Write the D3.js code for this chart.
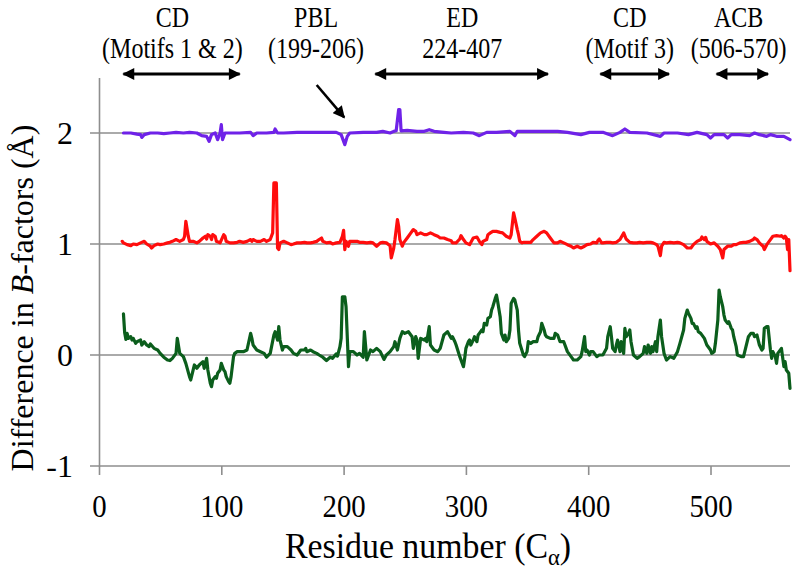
<!DOCTYPE html>
<html><head><meta charset="utf-8">
<script src="https://cdn.jsdelivr.net/npm/d3@7"></script>
<style>
html,body{margin:0;padding:0;background:#fff;}
svg{display:block;}
</style></head><body>
<svg id="chart" width="792" height="570"></svg>
<script>
// ---------- data (residue number, plotted value) ----------
const greenSeries = [[20,.37],[21,.20],[22,.14],[23,.195],[24,.15],[26,.165],[27,.135],[28,.15],[30,.105],[31,.12],[34,.135],[35,.09],[37,.12],[39,.09],[41,.075],[42,.10],[45,.06],[48,.045],[50,.015],[53,-.02],[56,-.045],[58,-.05],[60,-.03],[63,.015],[64,.15],[66,.015],[69,-.015],[71,-.075],[74,-.195],[75,-.225],[77,-.135],[78,-.09],[80,-.12],[82,-.09],[85,-.06],[86,-.12],[88,-.03],[89,-.135],[91,-.255],[92,-.285],[93,-.225],[95,-.195],[96,-.21],[97,-.165],[99,-.135],[100,-.075],[102,-.135],[103,-.15],[104,-.195],[106,-.24],[107,-.255],[108,-.195],[110,-.015],[111,.015],[113,.03],[115,.03],[118,.03],[121,.045],[124,.195],[125,.15],[126,.09],[129,.045],[132,.03],[135,.015],[137,-.02],[140,.015],[143,.18],[144,.21],[146,.135],[147,.255],[148,.135],[150,.045],[151,.075],[154,.075],[157,.045],[159,.015],[162,0],[165,.045],[168,.045],[169,.06],[170,.03],[173,.045],[175,.03],[178,.015],[180,0],[183,-.02],[186,-.05],[189,-.02],[191,-.03],[194,.01],[195,-.01],[197,.075],[198,.15],[199,.525],[201,.525],[202,.435],[204,-.105],[205,.03],[208,.03],[211,0],[213,.015],[216,-.02],[217,.21],[219,-.045],[222,.045],[224,.03],[227,.06],[230,.03],[233,-.04],[235,0],[238,.03],[241,.075],[242,.12],[244,.045],[246,.15],[248,.21],[250,.195],[253,.21],[256,.165],[257,.06],[259,.165],[260,.135],[261,-.03],[263,.15],[266,.135],[267,.15],[268,.12],[270,.255],[271,.09],[274,.045],[277,.03],[279,.06],[282,.18],[285,.21],[288,.15],[289,.165],[291,.12],[292,.09],[295,-.015],[298,-.105],[299,-.03],[300,.06],[302,.12],[303,.135],[304,.09],[306,.135],[307,.165],[309,.12],[310,.18],[311,.195],[313,.225],[314,.21],[315,.285],[317,.27],[318,.33],[320,.345],[321,.405],[322,.435],[324,.51],[325,.54],[326,.48],[328,.345],[329,.195],[331,.135],[332,.18],[333,.12],[335,.15],[336,.225],[337,.465],[339,.51],[340,.495],[342,.405],[343,.225],[344,.105],[347,0],[348,-.015],[350,.03],[351,.12],[353,.105],[355,.12],[358,.12],[359,.165],[361,.21],[362,.285],[364,.225],[365,.18],[366,.165],[369,.15],[372,.15],[373,.195],[375,.18],[377,.12],[380,.12],[383,.03],[386,-.015],[388,-.045],[391,-.045],[394,-.015],[395,.03],[397,.165],[398,.03],[399,.045],[401,0],[402,.03],[404,.03],[407,-.015],[409,0],[412,0],[415,.06],[416,.165],[418,.255],[419,.165],[420,.06],[422,.03],[423,.09],[424,.135],[426,.03],[427,.12],[429,.015],[430,.24],[431,.165],[433,.195],[434,.225],[435,.12],[437,0],[440,-.03],[442,-.015],[445,.015],[446,.075],[448,.015],[449,.09],[451,.015],[452,.075],[453,.03],[455,.12],[456,.03],[457,.165],[459,.315],[460,.165],[462,.015],[464,-.045],[467,-.015],[470,-.03],[473,.03],[475,.105],[478,.225],[479,.33],[481,.405],[482,.375],[484,.33],[485,.285],[486,.285],[488,.24],[489,.255],[490,.21],[492,.195],[495,.15],[496,.12],[497,.09],[500,.045],[501,.015],[503,.03],[504,.105],[506,.315],[507,.585],[508,.525],[510,.435],[511,.36],[512,.315],[514,.285],[515,.30],[517,.24],[518,.225],[519,.165],[521,.075],[522,0],[525,-.015],[527,-.015],[529,.075],[531,.165],[533,.195],[535,.195],[536,.165],[538,.18],[539,.135],[540,.09],[542,.045],[543,.06],[544,.24],[546,.255],[547,.255],[549,.045],[550,-.03],[551,.03],[553,-.015],[554,-.075],[555,.015],[558,.06],[560,-.105],[561,-.06],[562,-.135],[564,-.165],[565,-.30]];

const redSeries = [[19,1.024],[20,1.01],[23,.994],[26,.985],[28,1.0],[31,.994],[34,1.01],[37,1.024],[39,1.0],[42,.98],[43,.964],[45,.985],[48,1.0],[50,.994],[53,1.0],[56,1.01],[58,1.015],[60,1.024],[63,1.04],[66,1.024],[69,1.04],[70,1.07],[71,1.204],[73,1.07],[74,1.024],[77,1.024],[80,1.01],[82,1.024],[85,1.054],[87,1.07],[88,1.045],[89,1.084],[91,1.07],[92,1.04],[93,1.084],[95,1.07],[96,1.024],[99,1.01],[102,1.084],[103,1.07],[104,1.024],[107,1.01],[110,1.01],[113,1.015],[115,1.024],[118,1.015],[121,1.024],[124,1.04],[125,1.024],[126,1.04],[129,1.024],[132,1.024],[135,1.04],[137,1.024],[140,1.04],[142,1.10],[143,1.55],[145,1.55],[146,.964],[147,.95],[148,1.01],[151,1.024],[154,1.01],[157,.994],[159,1.0],[162,1.01],[165,1.01],[168,1.015],[170,1.01],[173,1.01],[175,1.015],[178,1.024],[180,1.04],[182,1.054],[183,1.024],[186,1.01],[189,1.015],[191,1.0],[194,1.01],[197,1.015],[199,1.07],[200,1.123],[201,.95],[202,1.024],[204,.98],[205,1.024],[208,1.024],[211,1.024],[213,1.015],[216,1.015],[219,1.01],[222,1.015],[224,1.01],[227,.98],[230,1.01],[232,1.015],[235,1.01],[238,.985],[239,.874],[241,.964],[242,1.04],[244,1.22],[245,1.16],[246,1.04],[248,.98],[249,1.01],[252,1.054],[255,1.10],[257,1.13],[259,1.114],[260,1.084],[263,1.10],[266,1.084],[268,1.084],[271,1.10],[274,1.084],[277,1.07],[279,1.054],[282,1.054],[285,1.04],[288,1.03],[289,1.01],[292,1.01],[295,1.045],[296,1.075],[298,1.04],[300,1.01],[303,.994],[306,1.054],[309,1.063],[311,1.024],[313,.994],[314,1.024],[317,1.04],[318,1.084],[320,1.10],[322,1.114],[325,1.114],[328,1.105],[330,1.10],[333,1.07],[336,1.054],[337,1.084],[339,1.28],[340,1.234],[342,1.13],[343,1.084],[344,1.024],[346,1.01],[347,1.015],[350,1.015],[353,1.015],[355,1.04],[358,1.07],[361,1.10],[364,1.114],[366,1.10],[369,1.054],[372,1.01],[375,1.01],[377,1.024],[380,1.01],[383,.994],[386,.98],[388,.964],[391,.98],[394,.964],[397,.98],[399,.994],[402,1.0],[404,1.015],[407,1.01],[408,1.033],[409,1.045],[411,1.01],[412,1.01],[415,1.015],[418,1.015],[420,1.01],[423,1.015],[426,1.04],[429,1.10],[431,1.045],[434,1.015],[437,1.01],[440,1.01],[442,1.015],[445,1.01],[448,1.015],[451,1.015],[453,1.01],[456,.994],[457,.98],[459,.895],[460,.98],[462,1.015],[464,1.01],[467,1.015],[470,1.01],[473,1.015],[475,1.01],[478,.994],[481,.964],[484,.964],[486,.994],[489,1.024],[492,1.04],[493,1.063],[495,1.04],[496,1.06],[497,1.024],[500,1.0],[503,1.01],[506,.98],[508,.95],[510,.874],[511,.95],[514,.98],[517,.98],[519,.994],[521,.994],[524,1.01],[527,1.015],[529,1.015],[532,1.024],[535,1.04],[536,1.054],[538,1.04],[540,1.01],[543,.98],[544,.95],[546,.994],[549,1.04],[551,1.07],[554,1.075],[557,1.07],[558,1.075],[560,1.054],[561,1.07],[562,1.054],[563,.95],[564,1.04],[565,.76]];

const purpleSeries = [[20,2.0],[26,2.0],[31,1.99],[34,1.985],[35,1.96],[37,1.985],[42,2.0],[48,2.0],[53,1.994],[58,2.0],[63,2.006],[69,2.0],[74,2.006],[80,2.0],[84,1.976],[88,1.97],[90,1.925],[92,1.985],[95,2.0],[97,1.94],[99,2.0],[100,2.075],[101,1.94],[103,2.0],[107,2.0],[115,2.0],[124,2.006],[126,1.976],[129,2.0],[137,2.0],[143,2.006],[144,2.036],[146,2.0],[151,2.0],[162,2.006],[173,2.006],[183,2.006],[194,2.006],[198,1.985],[201,1.895],[203,1.97],[205,2.0],[216,2.006],[227,2.006],[232,2.015],[238,2.0],[241,2.015],[243,2.02],[245,2.21],[246,2.21],[247,2.02],[252,2.024],[260,2.015],[266,2.015],[270,2.03],[274,2.015],[282,2.006],[288,2.0],[298,2.006],[306,2.0],[311,1.976],[317,2.006],[325,2.006],[336,2.015],[340,1.976],[342,2.015],[353,2.015],[364,2.015],[375,2.015],[383,2.006],[394,1.985],[401,2.006],[412,2.006],[420,1.976],[426,2.006],[430,2.036],[434,2.006],[448,2.0],[459,1.97],[462,2.0],[473,2.0],[482,1.985],[489,2.006],[497,1.985],[500,1.955],[503,1.985],[511,1.985],[514,1.955],[517,1.985],[524,1.985],[532,1.976],[536,2.0],[540,1.985],[546,1.97],[549,1.985],[554,1.97],[560,1.97],[565,1.94]];

const xTicks = [0, 100, 200, 300, 400, 500];
const yTicks = [-1, 0, 1, 2];

// annotation content (positions in residue numbers)
const regionNames   = ["CD", "PBL", "ED", "CD", "ACB"];
const regionDetails = ["(Motifs 1 & 2)", "(199-206)", "224-407", "(Motif 3)", "(506-570)"];
const regionCenters = [60, 177.5, 297, 434, 523];
const regionArrows  = [[20, 115], [226, 367], [410, 466], [505, 547]];
const pblPointer    = {from: 178, to: 200.5, toValue: 2.14};

// ---------- pick an installed Times-like serif font ----------
function pickSerif() {
  const ctx = document.createElement("canvas").getContext("2d");
  const probe = "mmmmmmmmiiiiiiiiWWWWllll";
  ctx.font = "100px monospace"; const mono = ctx.measureText(probe).width;
  ctx.font = "100px sans-serif"; const sans = ctx.measureText(probe).width;
  const cands = ["Liberation Serif", "Tinos", "Times New Roman", "Times", "Nimbus Roman",
                 "Nimbus Roman No9 L", "FreeSerif", "Noto Serif", "DejaVu Serif"];
  for (const f of cands) {
    ctx.font = `100px "${f}", monospace`; const a = ctx.measureText(probe).width;
    ctx.font = `100px "${f}", sans-serif`; const b = ctx.measureText(probe).width;
    if (Math.abs(a - b) < 0.5 && Math.abs(a - mono) > 0.5) return `"${f}"`;
  }
  return "serif";
}
const serif = pickSerif();

// ---------- layout ----------
const svg = d3.select("#chart").style("font-family", serif);
const x = d3.scaleLinear().domain([0, 565]).range([99, 790]);
const y = d3.scaleLinear().domain([-1, 2.5]).range([466, 77.5]);
const gridColor = "#8e8e8e";

// gridlines (with left tick stubs)
svg.append("g").selectAll("line").data(yTicks).join("line")
  .attr("x1", x(0) - 9).attr("x2", x.range()[1])
  .attr("y1", d => y(d)).attr("y2", d => y(d))
  .attr("stroke", gridColor).attr("stroke-width", 1.6);

// y axis
const yAxis = svg.append("g").attr("transform", `translate(${x(0)},0)`)
  .call(d3.axisLeft(y).tickValues(yTicks).tickSize(0).tickPadding(0).tickFormat(d => String(d)));
yAxis.attr("font-family", serif);
yAxis.select(".domain").attr("stroke", gridColor).attr("stroke-width", 1.6);
yAxis.selectAll(".tick text")
  .attr("x", -26).attr("dy", "0.34em")
  .style("font-size", "32px").attr("fill", "#000");

// x axis
const xAxis = svg.append("g").attr("transform", `translate(0,${y(-1)})`)
  .call(d3.axisBottom(x).tickValues(xTicks).tickSize(9).tickPadding(0).tickFormat(d => String(d)));
xAxis.attr("font-family", serif);
xAxis.select(".domain").remove();
xAxis.selectAll(".tick line").attr("stroke", gridColor).attr("stroke-width", 1.6);
xAxis.selectAll(".tick text")
  .attr("y", 51).attr("dy", 0)
  .style("font-size", "31px").attr("fill", "#000")
  .attr("transform", "scale(0.93,1)");

// series lines
const line = d3.line().x(d => x(d[0])).y(d => y(d[1])).curve(d3.curveLinear);
const series = [
  {data: greenSeries, color: "#0b5e1c"},
  {data: redSeries, color: "#ff0d0d"},
  {data: purpleSeries, color: "#6f22e8"}
];
svg.append("g").selectAll("path").data(series).join("path")
  .attr("d", d => line(d.data))
  .attr("fill", "none").attr("stroke", d => d.color)
  .attr("stroke-width", 3.2).attr("stroke-linejoin", "round").attr("stroke-linecap", "round");

// axis titles
const xt = svg.append("text")
  .attr("transform", `translate(428,558) scale(0.94,1)`)
  .attr("text-anchor", "middle").style("font-size", "36px").attr("fill", "#000");
xt.append("tspan").text("Residue number (C");
xt.append("tspan").attr("dy", 7).style("font-size", "24px").text("α");
xt.append("tspan").attr("dy", -7).text(")");

const yt = svg.append("text")
  .attr("transform", "translate(33,298) rotate(-90)")
  .attr("text-anchor", "middle").style("font-size", "32px").attr("fill", "#000");
yt.append("tspan").text("Difference in ");
yt.append("tspan").style("font-style", "italic").text("B");
yt.append("tspan").text("-factors (Å)");

// annotations
const defs = svg.append("defs");
defs.append("marker").attr("id", "ah").attr("viewBox", "0 0 10 10")
  .attr("refX", 9).attr("refY", 5).attr("markerUnits", "userSpaceOnUse")
  .attr("markerWidth", 13).attr("markerHeight", 12).attr("orient", "auto-start-reverse")
  .append("path").attr("d", "M0,0 L10,5 L0,10 Z").attr("fill", "#000");

const ann = svg.append("g");
ann.selectAll("text.name").data(regionNames).join("text").attr("class", "name")
  .attr("transform", (d, i) => `translate(${x(regionCenters[i])},27) scale(0.8,1)`)
  .attr("text-anchor", "middle").style("font-size", "30px").text(d => d);
ann.selectAll("text.det").data(regionDetails).join("text").attr("class", "det")
  .attr("transform", (d, i) => `translate(${x(regionCenters[i])},58) scale(0.8,1)`)
  .attr("text-anchor", "middle").style("font-size", "30px").text(d => d);

ann.selectAll("line.span").data(regionArrows).join("line").attr("class", "span")
  .attr("x1", d => x(d[0])).attr("x2", d => x(d[1]))
  .attr("y1", 74).attr("y2", 74)
  .attr("stroke", "#000").attr("stroke-width", 3)
  .attr("marker-start", "url(#ah)").attr("marker-end", "url(#ah)");

ann.append("line")
  .attr("x1", x(pblPointer.from)).attr("y1", 85)
  .attr("x2", x(pblPointer.to)).attr("y2", y(pblPointer.toValue))
  .attr("stroke", "#000").attr("stroke-width", 2.6).attr("marker-end", "url(#ah)");
</script>
</body></html>
